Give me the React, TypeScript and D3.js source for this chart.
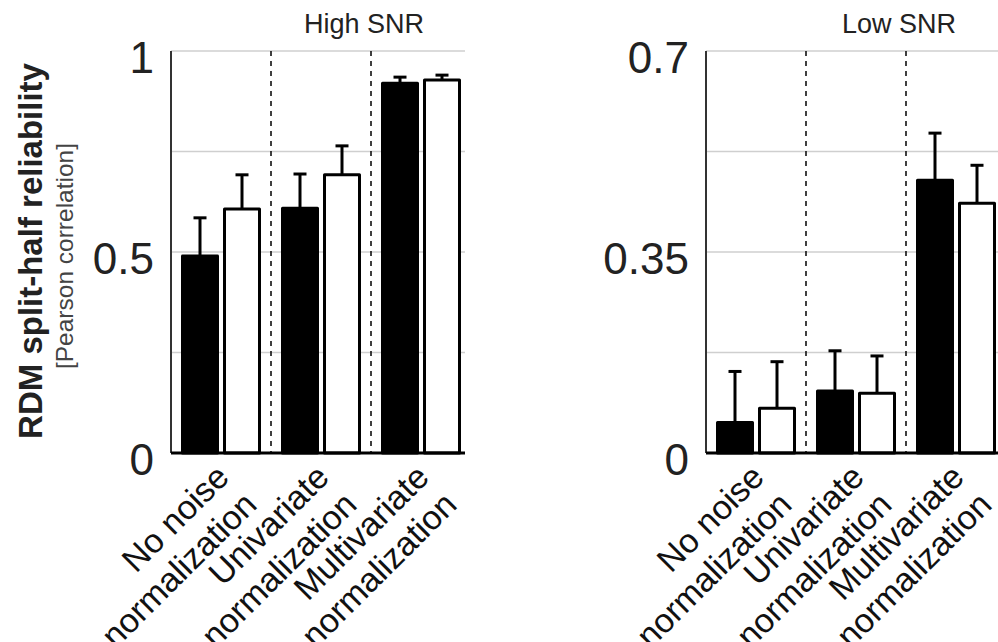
import React from 'react';
import * as d3 from 'd3';

// group labels (two lines each)
const groupLines = [
  ['No noise', 'normalization'],
  ['Univariate', 'normalization'],
  ['Multivariate', 'normalization'],
];

// High SNR panel
const highBlack = [0.49, 0.609, 0.92];
const highBlackErr = [0.095, 0.085, 0.015];
const highWhite = [0.607, 0.692, 0.928];
const highWhiteErr = [0.085, 0.072, 0.012];
const highTicks = ['0', '0.5', '1'];

// Low SNR panel
const lowBlack = [0.053, 0.108, 0.475];
const lowBlackErr = [0.089, 0.07, 0.082];
const lowWhite = [0.078, 0.104, 0.435];
const lowWhiteErr = [0.081, 0.065, 0.066];
const lowTicks = ['0', '0.35', '0.7'];

const W = 998;
const H = 642;
const FONT = '"Liberation Sans", Arial, Helvetica, sans-serif';

type PanelProps = {
  left: number;
  title: string;
  yMax: number;
  ticks: string[];
  black: number[];
  blackErr: number[];
  white: number[];
  whiteErr: number[];
};

const Panel = ({ left, title, yMax, ticks, black, blackErr, white, whiteErr }: PanelProps) => {
  const top = 51;
  const bottom = 453;
  const x = d3.scaleLinear().domain([0.5, 3.44]).range([left, left + 294]);
  const y = d3.scaleLinear().domain([0, yMax]).range([bottom, top]);
  const grid = d3.range(0, 5).map((i) => (yMax * i) / 4);
  const barW = x(0.35) - x(0);
  const capW = 13;

  const bars = [
    ...black.map((v, i) => ({ v, e: blackErr[i], cx: x(i + 1 - 0.21), fill: '#000' })),
    ...white.map((v, i) => ({ v, e: whiteErr[i], cx: x(i + 1 + 0.21), fill: '#fff' })),
  ];

  return (
    <g>
      <text x={x(2) + 43} y={33} fontSize={27} textAnchor="middle" fill="#222">
        {title}
      </text>
      {grid.map((g) => (
        <line key={g} x1={x(0.5)} x2={x(3.44)} y1={y(g)} y2={y(g)} stroke="#cfcfcf" strokeWidth={1.5} />
      ))}
      {[1.5, 2.5].map((d) => (
        <line key={d} x1={x(d)} x2={x(d)} y1={top} y2={bottom} stroke="#111" strokeWidth={1.6} strokeDasharray="5,5" />
      ))}
      {bars.map((b, i) => (
        <g key={i}>
          <line x1={b.cx} x2={b.cx} y1={y(b.v)} y2={y(b.v + b.e)} stroke="#000" strokeWidth={3} />
          <line x1={b.cx - capW / 2} x2={b.cx + capW / 2} y1={y(b.v + b.e)} y2={y(b.v + b.e)} stroke="#000" strokeWidth={3} />
          <rect
            x={b.cx - barW / 2}
            y={y(b.v)}
            width={barW}
            height={bottom - y(b.v)}
            fill={b.fill}
            stroke="#000"
            strokeWidth={3}
            strokeLinejoin="round"
          />
        </g>
      ))}
      <line x1={left} x2={left} y1={top} y2={bottom} stroke="#333" strokeWidth={2} />
      <line x1={left} x2={x(3.44)} y1={bottom} y2={bottom} stroke="#000" strokeWidth={3} />
      {ticks.map((t) => (
        <text key={t} x={left - 17} y={y(+t) + 22} fontSize={44} textAnchor="end" fill="#222">
          {t}
        </text>
      ))}
      {groupLines.map((lines, i) => (
        <text key={i} transform={`translate(${x(i + 1) + 10},${bottom + 26}) rotate(-45)`} fontSize={34} textAnchor="end" fill="#111">
          {lines.map((l, j) => (
            <tspan key={j} x={0} y={j * 39}>
              {l}
            </tspan>
          ))}
        </text>
      ))}
    </g>
  );
};

export default function App() {
  return (
    <svg width={W} height={H} style={{ position: 'absolute', left: 0, top: 0, background: '#fff' }} fontFamily={FONT}>
      <rect width={W} height={H} fill="#fff" />
      <text transform="translate(42,251) rotate(-90)" fontSize={33} fontWeight="bold" textAnchor="middle" fill="#222">
        RDM split-half reliability
      </text>
      <text transform="translate(73,256) rotate(-90)" fontSize={24.5} textAnchor="middle" fill="#444">
        [Pearson correlation]
      </text>
      <Panel left={171} title="High SNR" yMax={1} ticks={highTicks} black={highBlack} blackErr={highBlackErr} white={highWhite} whiteErr={highWhiteErr} />
      <Panel left={706} title="Low SNR" yMax={0.7} ticks={lowTicks} black={lowBlack} blackErr={lowBlackErr} white={lowWhite} whiteErr={lowWhiteErr} />
    </svg>
  );
}
